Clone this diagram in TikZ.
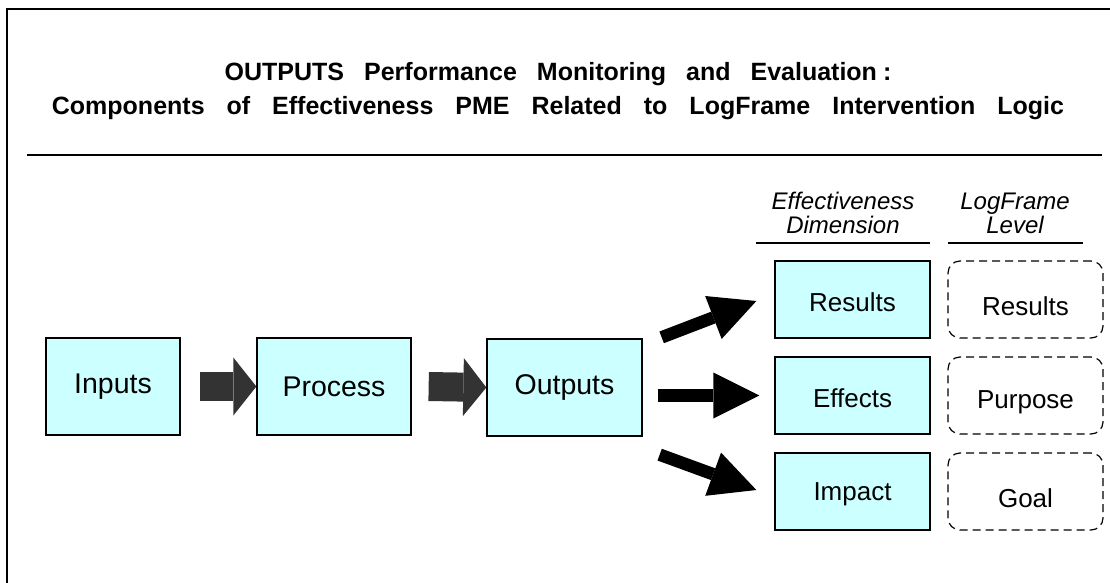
\documentclass[tikz,border=0pt]{standalone}
\usepackage{fontspec}
\setmainfont{Liberation Sans}
\usetikzlibrary{arrows.meta,calc}
\definecolor{boxfill}{HTML}{CCFFFF}
\definecolor{blockgray}{HTML}{333333}
\begin{document}
\begin{tikzpicture}[x=1pt,y=-1pt,
  cyanbox/.style={draw=black, line width=1.3pt, fill=boxfill, inner sep=0pt},
  leftbox/.style={cyanbox, minimum height=97pt, font=\fontsize{28.5}{30}\selectfont},
  dimbox/.style={cyanbox, minimum width=155pt, minimum height=77pt, font=\fontsize{26}{28}\selectfont},
  levelbox/.style={draw=black, line width=1.2pt, dash pattern=on 8pt off 5pt,
    rounded corners=12pt, minimum width=155pt, minimum height=77pt, inner sep=0pt,
    font=\fontsize{26}{28}\selectfont},
  grayarrow/.style={draw=blockgray, line width=29pt,
    -{Triangle[length=23pt,width=58pt,line width=0pt]}},
  blackarrow/.style={draw=black, line width=12.5pt,
    -{Triangle[length=46pt,width=46pt,line width=0pt]}},
  header/.style={font=\fontsize{24}{24}\selectfont\itshape, align=center},
  rulestyle/.style={line width=1.5pt},
]
\useasboundingbox (0,0) rectangle (1110,583);

% frame: left and top edges only
\draw[line width=2pt] (7,583) -- (7,9) -- (1110,9);

% title
\node[font=\fontsize{25}{34}\selectfont\bfseries, align=center] (title) at (558,91)
  {\spaceskip=20pt OUTPUTS Performance Monitoring and Evaluation\hspace{6pt}:\\
   \spaceskip=22pt Components of Effectiveness PME Related to LogFrame Intervention Logic};
\draw[rulestyle] (27,155) -- (1102,155);

% column headers
\node[header] (hdim) at (843,213) {Effectiveness\\Dimension};
\node[header] (hlev) at (1015,213) {LogFrame\\Level};
\draw[rulestyle] (756,243) -- (930,243);
\draw[rulestyle] (948,243) -- (1083,243);

% input - process - output chain
\node[leftbox, minimum width=134pt] (inp) at (113,386.5) {Inputs};
\node[leftbox, minimum width=154pt] (proc) at (334,386.5) {Process};
\node[leftbox, minimum width=155pt] (out) at (564.5,387.5) {Outputs};

\draw[grayarrow] ($(inp.east)+(19,0)$) -- (proc.west);
\draw[grayarrow] ($(proc.east)+(17,0)$) -- (out.west);

% effectiveness dimensions
\node[dimbox] (res) at (852.5,299.5) {\raisebox{-3pt}[\height][\depth]{Results}};
\node[dimbox] (eff) at (852.5,395.5) {\raisebox{-3pt}[\height][\depth]{Effects}};
\node[dimbox] (imp) at (852.5,491.5) {\raisebox{-3pt}[\height][\depth]{Impact}};

% logframe levels
\node[levelbox] (lres) at (1025.5,299.5) {\raisebox{-7pt}[\height][\depth]{Results}};
\node[levelbox] (lpur) at (1025.5,395.5) {\raisebox{-7pt}[\height][\depth]{Purpose}};
\node[levelbox] (lgoal) at (1025.5,491.5) {\raisebox{-7pt}[\height][\depth]{Goal}};

% outputs fanning out to the three dimensions
\draw[blackarrow] ($(out.north east)+(19,-1)$) -- ($(res.west)+(-18,1.5)$);
\draw[blackarrow] ($(out.east |- eff.west)+(15,0)$) -- ($(eff.west)+(-15,0)$);
\draw[blackarrow] ($(out.south east)+(17,18)$) -- ($(imp.west)+(-18,-1.5)$);
\end{tikzpicture}
\end{document}
